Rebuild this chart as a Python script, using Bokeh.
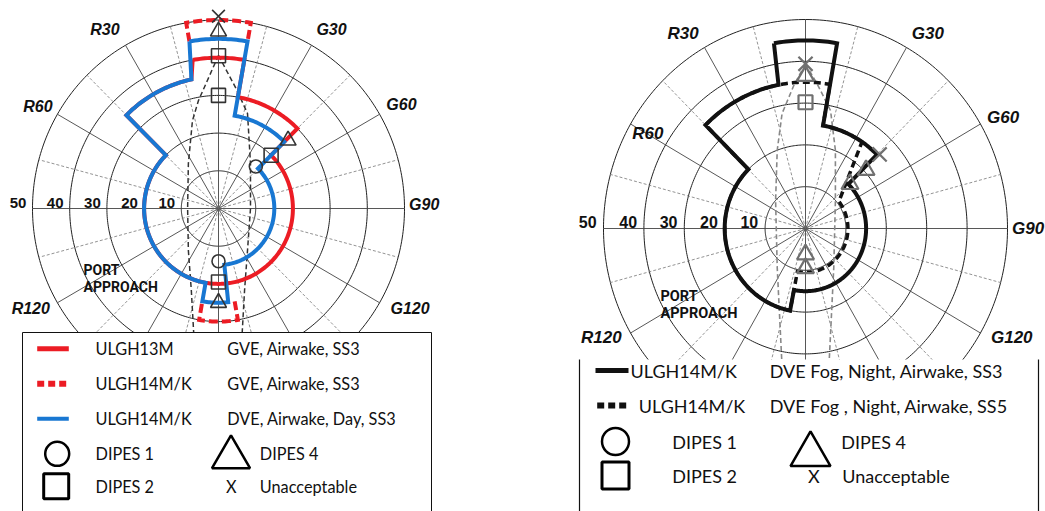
import numpy as np
from bokeh.plotting import figure
from bokeh.models import Range1d
from bokeh.layouts import row
from bokeh.embed import file_html
from bokeh.resources import INLINE
from bokeh.core.properties import value

# ---------------- DATA ----------------
# relative wind azimuth (deg, 0 = bow, + = Green/starboard, clockwise), wind speed (kts)
# ---- left panel ----
l13m_gve_ang = [-10, 10, 10, 45, 45, 315, 315, 348, 350]
l13m_gve_spd = [40, 40, 30, 30, 20, 20, 35, 35, 40]
l14mk_gve_top_ang = [-10, -10, 10, 10]
l14mk_gve_top_spd = [45, 50, 50, 45]
l14mk_gve_bot_ang = [170, 170, 190, 190]
l14mk_gve_bot_spd = [25, 30, 30, 25]
l14mk_dve_ang = [-10, 10, 10, 45, 45, 174, 174, 190, 190, 315, 315, 348, 350]
l14mk_dve_spd = [45, 45, 25, 25, 15, 15, 25, 25, 20, 20, 35, 35, 45]

left_dipes1_ang = [42, 180]
left_dipes1_spd = [15, 14]
left_dipes2_ang = [0, 0, 45, 180]
left_dipes2_spd = [40.5, 30, 20, 19.5]
left_dipes4_ang = [0, 46, 180]
left_dipes4_spd = [47, 26, 25]
left_unacc_ang = [0]
left_unacc_spd = [51]

# dashed limit curves (lateral kts, longitudinal kts)
left_lens_port_x = [0, -5.4, -7.0, -8.1, -8.3, -8.1, -7.3, -6.7, -6.5]
left_lens_port_y = [40.6, 28.6, 23.3, 11.9, 0, -11.1, -21.8, -32.4, -36]
left_lens_stbd_x = [0, 5.0, 7.8, 8.6, 8.6, 7.8, 7.0, 6.4, 6.2]
left_lens_stbd_y = [40.6, 31.3, 25.2, 11.9, 0, -11.1, -21.8, -32.4, -36]

# ---- right panel ----
r14mk_ss3_ang = [-10, 10, 10, 45, 45, 191, 191, 315, 315, 349, 350]
r14mk_ss3_spd = [45, 45, 25, 25, 15, 15, 20, 20, 35, 35, 45]
r14mk_ss5_ang = [-10, 10, 10, 34, 52, 191, 191, 315, 315, 350]
r14mk_ss5_spd = [35, 35, 25, 25, 10.5, 10.5, 20, 20, 35, 35]

right_dipes2_ang = [0]
right_dipes2_spd = [30.2]
right_dipes4_ang = [0, 47, 46, 180, 180]
right_dipes4_spd = [36.5, 20.5, 15.3, 6.2, 9.5]
right_unacc_ang = [0, 46]
right_unacc_spd = [39.4, 25.5]

right_lens_port_x = [0, -2.9, -5.8, -7.0, -7.4, -7.0, -6.2, -5.8]
right_lens_port_y = [39.4, 34.2, 27.5, 18.7, 6.7, -9.3, -25.2, -33.0]
right_lens_stbd_x = [0, 3.1, 6.2, 7.4, 7.4, 7.0, 6.2, 5.8]
right_lens_stbd_y = [39.4, 34.2, 28.2, 18.7, 6.7, -9.3, -25.2, -33.0]

# ---- axes / ticks ----
ring_values = [10, 20, 30, 40, 50]
ring_labels = ["10", "20", "30", "40", "50"]
angle_labels = ["R30", "G30", "R60", "G60", "G90", "R120", "G120"]

# ---------------- LAYOUT ----------------
LEFT = dict(cx=218, cy=208, kx=3.72, ky=3.77,
            lab_ang=[-32.7, 32.6, -60.8, 60.7, 89.0, -117.7, 117.2],
            lab_r=[56.5, 56.4, 55.6, 56.4, 55.3, 57.0, 57.9],
            lab_fs="16px", tick_fs="15px", port_xy=(83, 269), port_fs="14px")
RIGHT = dict(cx=805, cy=228, kx=4.04, ky=4.18,
             lab_ang=[-33.0, 33.0, -59.7, 61.6, 90.0, -117.2, 117.0],
             lab_r=[55.6, 55.6, 45.2, 55.6, 55.1, 56.8, 57.3],
             lab_fs="17px", tick_fs="16px", port_xy=(660, 296), port_fs="14.5px")

RED = "#ec1c24"
BLUE = "#1877d2"
H = 511


def to_xy(ang, spd, P):
    a = np.radians(np.asarray(ang, dtype=float))
    s = np.asarray(spd, dtype=float)
    return P["cx"] + P["kx"] * s * np.sin(a), P["cy"] - P["ky"] * s * np.cos(a)


def cart_xy(xs, ys, P):
    return P["cx"] + P["kx"] * np.asarray(xs, float), P["cy"] - P["ky"] * np.asarray(ys, float)


def env_path(ang, spd):
    A, S = [ang[0]], [spd[0]]
    for i in range(len(ang) - 1):
        a0, s0, a1, s1 = ang[i], spd[i], ang[i + 1], spd[i + 1]
        if s0 == s1 and a0 != a1:
            m = int(abs(a1 - a0)) + 2
            aa = np.linspace(a0, a1, m)[1:]
            A.extend(aa.tolist())
            S.extend([s0] * len(aa))
        else:
            A.append(a1)
            S.append(s1)
    return A, S


def make_fig(x0, x1):
    p = figure(width=x1 - x0, height=H, x_range=Range1d(x0, x1), y_range=Range1d(H, 0),
               output_backend="svg", toolbar_location=None, min_border=0,
               x_axis_location=None, y_axis_location=None)
    p.xgrid.visible = False
    p.ygrid.visible = False
    p.outline_line_color = None
    p.background_fill_color = "white"
    p.border_fill_color = "white"
    return p


def draw_grid(p, P):
    th = np.linspace(0, 360, 361)
    for r in ring_values:
        x, y = to_xy(th, np.full_like(th, r), P)
        p.line(x, y, line_color="#222222", line_width=1)
    for a in range(0, 360, 15):
        x, y = to_xy([a, a], [0, ring_values[-1]], P)
        if a % 30 == 0:
            p.line(x, y, line_color="#444444", line_width=0.9)
        else:
            p.line(x, y, line_color="#777777", line_width=0.8, line_dash="3 2")


def draw_labels(p, P):
    x, y = to_xy(P["lab_ang"], P["lab_r"], P)
    p.text(x=x, y=y, text=angle_labels, text_align="center", text_baseline="middle",
           text_font=value("Liberation Sans"), text_font_style="bold italic",
           text_font_size=P["lab_fs"], text_color="#111111")
    tx, ty = to_xy([-90] * len(ring_values), [v + 3.9 for v in ring_values], P)
    p.text(x=tx, y=ty - 0.5, text=ring_labels, text_align="center", text_baseline="bottom",
           text_font=value("Liberation Sans"), text_font_style="bold",
           text_font_size=P["tick_fs"], text_color="#111111")
    px, py = P["port_xy"]
    p.text(x=[px, px], y=[py, py + 17], text=["PORT", "APPROACH"], text_align="left",
           text_baseline="middle", text_font=value("Roboto"), text_font_style="bold",
           text_font_size=P["port_fs"], text_color="#111111")


def draw_env(p, ang, spd, P, color, width, dash="solid"):
    A, S = env_path(ang, spd)
    x, y = to_xy(A, S, P)
    p.line(x, y, line_color=color, line_width=width, line_dash=dash,
           line_join="miter", line_cap="butt")


def draw_markers(p, P, groups, color, lw):
    for ang, spd, marker, size in groups:
        x, y = to_xy(ang, spd, P)
        p.scatter(x, y, marker=marker, size=size, line_color=color, line_width=lw,
                  fill_alpha=0)


# ---------------- LEFT FIGURE ----------------
p1 = make_fig(0, 440)
P = LEFT
draw_grid(p1, P)
for xs, ys in [(left_lens_port_x, left_lens_port_y), (left_lens_stbd_x, left_lens_stbd_y)]:
    x, y = cart_xy(xs, ys, P)
    p1.line(x, y, line_color="#333333", line_width=1.5, line_dash="5 3")
draw_labels(p1, P)
draw_env(p1, l14mk_gve_top_ang, l14mk_gve_top_spd, P, RED, 4, "9 4")
draw_env(p1, l14mk_gve_bot_ang, l14mk_gve_bot_spd, P, RED, 4, "9 4")
draw_env(p1, l13m_gve_ang, l13m_gve_spd, P, RED, 4)
draw_env(p1, l14mk_dve_ang, l14mk_dve_spd, P, BLUE, 4)
draw_markers(p1, P, [(left_dipes1_ang, left_dipes1_spd, "circle", 13),
                     (left_dipes2_ang, left_dipes2_spd, "square", 14),
                     (left_dipes4_ang, left_dipes4_spd, "triangle", 16),
                     (left_unacc_ang, left_unacc_spd, "x", 18)], "#333333", 1.6)

# legend (left)
p1.quad(left=22, right=431, top=332, bottom=540, fill_color="white", line_color="#111111",
        line_width=1)
rows_l = [348.3, 383.3, 418.3, 453.3, 485.7]
p1.segment(x0=[36.7], y0=[rows_l[0]], x1=[68.3], y1=[rows_l[0]], line_color=RED, line_width=5)
p1.segment(x0=[36.7], y0=[rows_l[1]], x1=[66], y1=[rows_l[1]], line_color=RED, line_width=6,
           line_dash="7 4")
p1.segment(x0=[36.7], y0=[rows_l[2]], x1=[68.3], y1=[rows_l[2]], line_color=BLUE, line_width=4)
p1.scatter([56.7], [rows_l[3]], marker="circle", size=24, line_color="black", line_width=2.5,
           fill_alpha=0)
p1.scatter([230.5], [456.7], marker="triangle", size=38, line_color="black", line_width=2.5,
           fill_alpha=0)
p1.scatter([55.7], [rows_l[4]], marker="square", size=25, line_color="black", line_width=3,
           fill_alpha=0)
lt_x = [95, 226.7, 95, 226.7, 95, 226.7, 95, 259.3, 95, 259.3]
lt_y = [rows_l[0], rows_l[0], rows_l[1], rows_l[1], rows_l[2], rows_l[2], rows_l[3], rows_l[3],
        rows_l[4], rows_l[4]]
lt_t = ["ULGH13M", "GVE, Airwake, SS3", "ULGH14M/K", "GVE, Airwake, SS3", "ULGH14M/K",
        "DVE, Airwake, Day, SS3", "DIPES 1", "DIPES 4", "DIPES 2", "Unacceptable"]
p1.text(x=lt_x, y=lt_y, text=lt_t, text_align="left", text_baseline="middle",
        text_font=value("Lato"), text_font_size="16.3px", text_color="#111111")
p1.text(x=[230.8], y=[rows_l[4]], text=["X"], text_align="center", text_baseline="middle",
        text_font=value("Lato"), text_font_size="16.3px", text_color="#111111")

# ---------------- RIGHT FIGURE ----------------
p2 = make_fig(440, 1045)
P = RIGHT
draw_grid(p2, P)
for xs, ys in [(right_lens_port_x, right_lens_port_y), (right_lens_stbd_x, right_lens_stbd_y)]:
    x, y = cart_xy(xs, ys, P)
    p2.line(x, y, line_color="#888888", line_width=1.6, line_dash="5 3")
draw_labels(p2, P)
draw_env(p2, r14mk_ss5_ang, r14mk_ss5_spd, P, "#111111", 3.5, "7 4")
draw_env(p2, r14mk_ss3_ang, r14mk_ss3_spd, P, "#111111", 4)
draw_markers(p2, P, [(right_dipes2_ang, right_dipes2_spd, "square", 14),
                     (right_dipes4_ang, right_dipes4_spd, "triangle", 17),
                     (right_unacc_ang, right_unacc_spd, "x", 20)], "#707070", 2.2)

# legend (right)
p2.quad(left=575, right=1045, top=359, bottom=540, fill_color="white", line_color=None)
p2.segment(x0=[579, 1038], y0=[359, 359], x1=[579, 1038], y1=[540, 540],
           line_color="#111111", line_width=1.2)
rows_r = [370, 405, 441, 475]
p2.segment(x0=[595], y0=[rows_r[0]], x1=[628], y1=[rows_r[0]], line_color="#111111",
           line_width=5)
p2.segment(x0=[596.7], y0=[rows_r[1]], x1=[628], y1=[rows_r[1]], line_color="#111111",
           line_width=6, line_dash="7 4")
p2.scatter([615], [rows_r[2]], marker="circle", size=27, line_color="black", line_width=2.5,
           fill_alpha=0)
p2.scatter([810], [454], marker="triangle", size=40, line_color="black", line_width=2.5,
           fill_alpha=0)
p2.scatter([615], [rows_r[3]], marker="square", size=27, line_color="black", line_width=3,
           fill_alpha=0)
rt_x = [630, 769.3, 638.3, 769.3, 671.7, 840.7, 671.7, 841.7]
rt_y = [rows_r[0], rows_r[0], rows_r[1], rows_r[1], rows_r[2], rows_r[2], rows_r[3], rows_r[3]]
rt_t = ["ULGH14M/K", "DVE Fog, Night, Airwake, SS3", "ULGH14M/K",
        "DVE Fog , Night, Airwake, SS5", "DIPES 1", "DIPES 4", "DIPES 2", "Unacceptable"]
p2.text(x=rt_x, y=rt_y, text=rt_t, text_align="left", text_baseline="middle",
        text_font=value("Lato"), text_font_size="18px", text_color="#111111")
p2.text(x=[813.3], y=[rows_r[3]], text=["X"], text_align="center", text_baseline="middle",
        text_font=value("Lato"), text_font_size="18px", text_color="#111111")

layout = row(p1, p2)
open("out.html", "w").write(file_html(layout, INLINE))
